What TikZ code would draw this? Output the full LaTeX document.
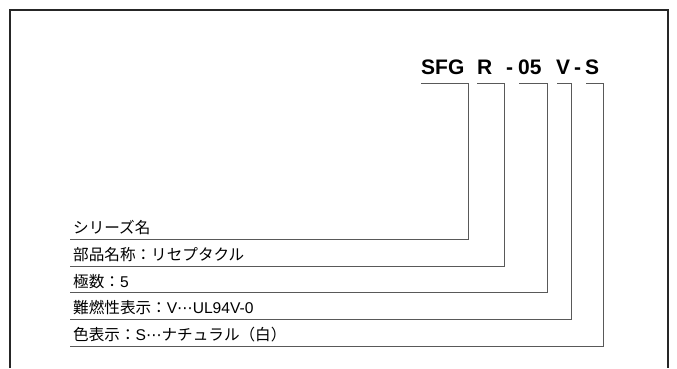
\documentclass[tikz,border=0pt]{standalone}
\usepackage{fontspec}
\setmainfont{Liberation Sans}
\newfontfamily\jp{Noto Sans CJK JP}
\newfontfamily\dvs{DejaVu Sans}
\newcommand{\midell}{\makebox[1em]{\dvs ⋯}}
\begin{document}
\begin{tikzpicture}[x=1pt,y=-1pt,
  code/.style={anchor=base west,inner sep=0pt,font=\bfseries\fontsize{21}{21}\selectfont},
  row/.style={anchor=base west,inner sep=0pt,font=\fontsize{15.6}{15.6}\selectfont},
  lead/.style={draw=black!65,line width=1pt},
  frame/.style={draw=black!85,line width=1.3pt}]
\useasboundingbox (0,0) rectangle (677,368);
\draw[frame] (10,368) -- (10,10) -- (668,10) -- (668,368);
% code
\node[code] (c1) at (421,74) {SFG};
\node[code] (c2) at (477,74) {R};
\node[code] (d1) at (506,74) {-};
\node[code] (c3) at (518,74) {05};
\node[code] (c4) at (556,74) {V};
\node[code] (d2) at (574,74) {-};
\node[code] (c5) at (585,74) {S};
% rows
\node[row] (r1) at (73,233) {\jp シリーズ名};
\node[row] (r2) at (73,260) {\jp 部品名称：リセプタクル};
\node[row] (r3) at (73,287) {{\jp 極数：}5};
\node[row] (r4) at (73,313) {{\jp 難燃性表示：}V\midell UL94V-0};
\node[row] (r5) at (73,340) {{\jp 色表示：}S\midell{\jp ナチュラル（白）}};
% lead coordinates
\coordinate (l1) at (70,239);
\coordinate (l2) at (70,266);
\coordinate (l3) at (70,292);
\coordinate (l4) at (70,319);
\coordinate (l5) at (70,346);
\draw[lead] (421,83) -- (468,83) -- (468,239) -- (l1);
\draw[lead] (477,83) -- (504,83) -- (504,266) -- (l2);
\draw[lead] (519,83) -- (547,83) -- (547,292) -- (l3);
\draw[lead] (557,83) -- (571,83) -- (571,319) -- (l4);
\draw[lead] (586,83) -- (603,83) -- (603,346) -- (l5);
\end{tikzpicture}
\end{document}
